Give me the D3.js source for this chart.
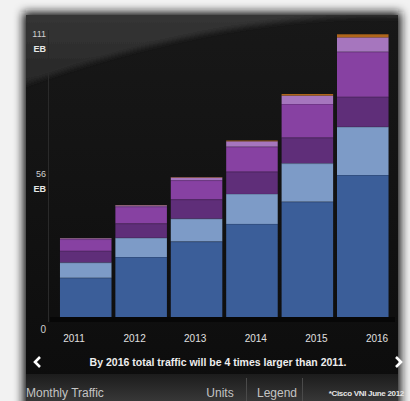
<!DOCTYPE html>
<html><head><meta charset="utf-8">
<script src="https://cdn.jsdelivr.net/npm/d3@7"></script>
<style>
html,body{margin:0;padding:0;background:#f3f3f3;}
svg{display:block;}
text{font-family:"Liberation Sans",Arial,Helvetica,sans-serif;}
</style></head>
<body>
<script>
// ---- data ----
const years = ["2011","2012","2013","2014","2015","2016"];
const seriesNames = ["Segment 1","Segment 2","Segment 3","Segment 4","Segment 5","Segment 6"];
const seg1 = [15.3, 23.4, 29.5, 36.3, 45.0, 55.4];
const seg2 = [6.0, 7.5, 8.9, 11.7, 15.0, 18.8];
const seg3 = [4.5, 5.6, 7.5, 8.7, 10.0, 11.7];
const seg4 = [4.6, 6.6, 7.5, 9.75, 13.1, 17.6];
const seg5 = [0.3, 0.5, 1.05, 2.1, 3.3, 5.6];
const seg6 = [0.05, 0.1, 0.15, 0.3, 0.6, 1.2];
const seriesColors = ["#3b5e99","#7d9bc7","#5f2e79","#8741a2","#a676be","#b0661c"];
const yTicks = [0, 56, 111];
const yTickUnits = ["", "EB", "EB"];
const caption = "By 2016 total traffic will be 4 times larger than 2011.";
const footerLeft = "Monthly Traffic";
const footerItems = ["Units", "Legend"];
const sourceNote = "*Cisco VNI June 2012";

const W = 410, H = 401;
const svg = d3.select("body").append("svg").attr("width", W).attr("height", H);
const defs = svg.append("defs");

defs.append("filter").attr("id","blur").attr("x","-10%").attr("y","-10%").attr("width","120%").attr("height","120%")
  .append("feGaussianBlur").attr("stdDeviation", 5);
defs.append("filter").attr("id","blur2").attr("x","-10%").attr("y","-10%").attr("width","120%").attr("height","120%")
  .append("feGaussianBlur").attr("stdDeviation", 2.5);

const bgGrad = defs.append("linearGradient").attr("id","panelGrad").attr("x1",0).attr("y1",0).attr("x2",0).attr("y2",1);
bgGrad.append("stop").attr("offset","0%").attr("stop-color","#181818");
bgGrad.append("stop").attr("offset","100%").attr("stop-color","#0d0d0d");

const glossGrad = defs.append("linearGradient").attr("id","glossGrad").attr("x1",0).attr("y1",0).attr("x2",0).attr("y2",1);
glossGrad.append("stop").attr("offset","0%").attr("stop-color","#363636");
glossGrad.append("stop").attr("offset","100%").attr("stop-color","#272727");

const footGrad = defs.append("linearGradient").attr("id","footGrad").attr("x1",0).attr("y1",0).attr("x2",0).attr("y2",1);
footGrad.append("stop").attr("offset","0%").attr("stop-color","#1c1c1c");
footGrad.append("stop").attr("offset","100%").attr("stop-color","#3a3a3a");

// outer light background
svg.append("rect").attr("width",W).attr("height",H).attr("fill","#f2f2f2");

// panel with soft edge
svg.append("rect").attr("x",23).attr("y",12).attr("width",378).attr("height",420)
  .attr("fill","#141414").attr("filter","url(#blur)");

const clip = defs.append("clipPath").attr("id","pclip");
clip.append("rect").attr("x",26).attr("y",15).attr("width",372).attr("height",400);

const panel = svg.append("g").attr("clip-path","url(#pclip)");
panel.append("rect").attr("x",20).attr("y",10).attr("width",384).attr("height",370).attr("fill","url(#panelGrad)");
// gloss arc region at top
panel.append("path")
  .attr("d","M20,10 L404,10 L404,17 Q230,10 20,86 Z")
  .attr("fill","url(#glossGrad)").attr("filter","url(#blur2)");
// footer band
panel.append("rect").attr("x",20).attr("y",374).attr("width",384).attr("height",30).attr("fill","url(#footGrad)");

// ---- scales ----
const y = d3.scaleLinear().domain([0, 111]).range([317, 32.5]);
const x = d3.scaleBand().domain(years).range([57.2, 391.3]).paddingInner(0.07).paddingOuter(0.05);
const xLab = d3.scalePoint().domain(years).range([74, 377]);

// axis line
svg.append("line").attr("x1",48.5).attr("x2",48.5).attr("y1",30).attr("y2",322)
  .attr("stroke","#2a2a2a").attr("stroke-width",1);
// baseline strip
svg.append("rect").attr("x",50).attr("y",y(0)).attr("width",345).attr("height",5).attr("fill","#070707");

// stacked data
const rows = years.map((yr,i)=>({year:yr, s0:seg1[i], s1:seg2[i], s2:seg3[i], s3:seg4[i], s4:seg5[i], s5:seg6[i]}));
const keys = ["s0","s1","s2","s3","s4","s5"];
const stacked = d3.stack().keys(keys)(rows);

const gBars = svg.append("g");
gBars.selectAll("g.layer").data(stacked).join("g").attr("class","layer")
  .attr("fill",(d,i)=>seriesColors[i])
  .selectAll("rect").data(d=>d).join("rect")
  .attr("x", d=>x(d.data.year))
  .attr("width", x.bandwidth())
  .attr("y", d=>y(d[1]))
  .attr("height", d=>Math.max(0, y(d[0]) - y(d[1])));

// faint separator lines between segments
gBars.selectAll("g.layer").filter((d,i)=>i>0 && i<5)
  .selectAll("line").data(d=>d).join("line")
  .attr("x1", d=>x(d.data.year)).attr("x2", d=>x(d.data.year)+x.bandwidth())
  .attr("y1", d=>y(d[0])+0.5).attr("y2", d=>y(d[0])+0.5)
  .attr("stroke","rgba(0,0,0,0.15)");

// y axis labels
const yl = svg.append("g");
yTicks.forEach((t,i)=>{
  const isZero = t===0;
  yl.append("text").attr("x",46).attr("y", y(t) + (isZero ? 16 : 4))
    .attr("text-anchor","end").attr("fill","#d0d0d0").attr("font-size", isZero ? 10 : 9)
    .text(t);
  if (yTickUnits[i]) {
    yl.append("text").attr("x",46).attr("y", y(t) + 19)
      .attr("text-anchor","end").attr("fill","#e6e6e6").attr("font-size",9).attr("font-weight","bold")
      .text(yTickUnits[i]);
  }
});

// year labels
svg.append("g").selectAll("text").data(years).join("text")
  .attr("x", d=>xLab(d)).attr("y", 342).attr("text-anchor","middle")
  .attr("fill","#e0e0e0").attr("font-size",10).text(d=>d);

// caption
svg.append("text").attr("x",218).attr("y",366).attr("text-anchor","middle")
  .attr("fill","#eeeeee").attr("font-size",10.5).attr("font-weight","bold").text(caption);
// arrows
svg.append("path").attr("d","M40,357 L35,362 L40,367").attr("fill","none").attr("stroke","#fff").attr("stroke-width",2.6).attr("stroke-linejoin","miter");
svg.append("path").attr("d","M396,357 L401,362 L396,367").attr("fill","none").attr("stroke","#fff").attr("stroke-width",2.6);

// footer
svg.append("text").attr("x",26).attr("y",397).attr("fill","#c4c4c4").attr("font-size",12).text(footerLeft);
const fx = [220, 277];
footerItems.forEach((t,i)=>{
  svg.append("text").attr("x",fx[i]).attr("y",397).attr("text-anchor","middle")
    .attr("fill","#c4c4c4").attr("font-size",12).text(t);
});
[246, 302].forEach(v=>{
  svg.append("line").attr("x1",v+0.5).attr("x2",v+0.5).attr("y1",378).attr("y2",401).attr("stroke","#4a4a4a");
});
svg.append("text").attr("x",404).attr("y",396).attr("text-anchor","end")
  .attr("fill","#e6e6e6").attr("font-size",8).attr("font-weight","bold").attr("letter-spacing","-0.3").text(sourceNote);
</script>
</body></html>
